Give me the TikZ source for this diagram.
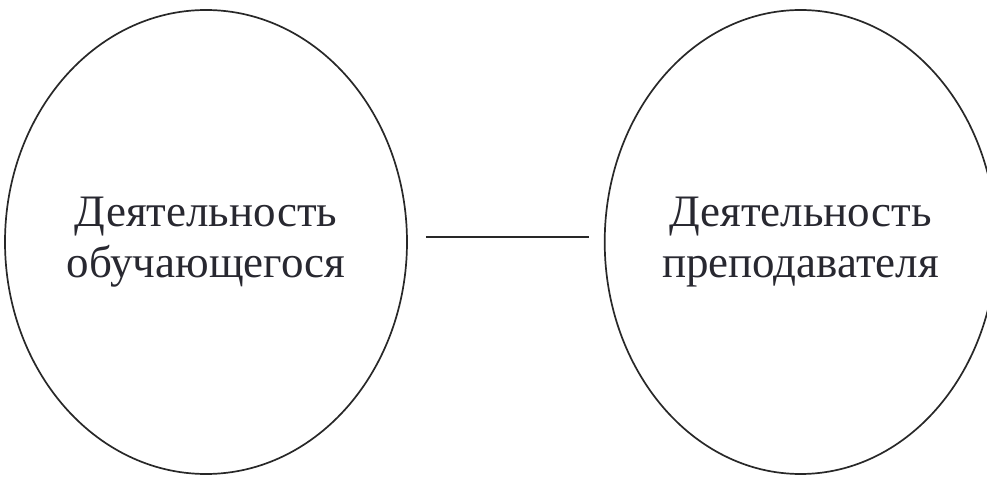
\documentclass[tikz,border=0pt]{standalone}
\usepackage{fontspec}
\setmainfont{Liberation Serif}
\usetikzlibrary{positioning,shapes.geometric}
\definecolor{linegray}{RGB}{40,40,40}
\definecolor{textgray}{RGB}{40,40,48}
\tikzset{
  activity/.style={
    draw=linegray,
    ellipse,
    line width=1.7pt,
    minimum height=464pt,
    align=center,
    inner sep=0pt,
    text=textgray,
    font=\fontsize{45}{51}\selectfont
  },
  link/.style={draw=linegray, line width=2.8pt, shorten <=18pt, shorten >=15pt}
}
\begin{document}
\begin{tikzpicture}[x=1pt,y=1pt]
\useasboundingbox (0,0) rectangle (987,479);

% Activities
\node[activity, minimum width=402pt] (student) at (206,237) {Деятельность\\обучающегося};
\node[activity, minimum width=372pt, right=196pt of student] (teacher) {Деятельность\\преподавателя};

% Connection
\draw[link] ([yshift=5pt]student.east) -- ([yshift=5pt]teacher.west);

\end{tikzpicture}
\end{document}
